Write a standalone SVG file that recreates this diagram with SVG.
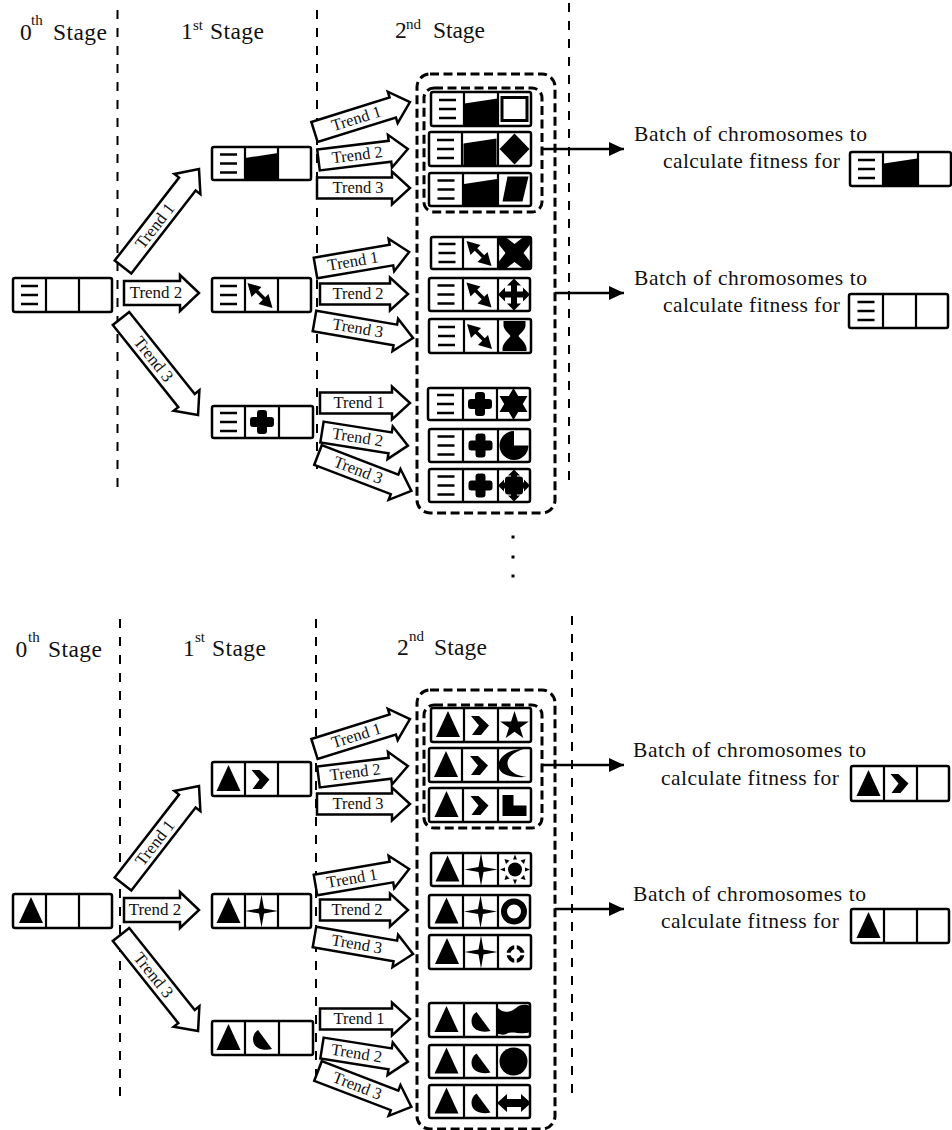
<svg xmlns="http://www.w3.org/2000/svg" width="952" height="1130" viewBox="0 0 952 1130">
<style>
text{font-family:"Liberation Serif","Times New Roman",serif;fill:#111}
.stage{font-size:23.5px}
.sup{font-size:15px}
.batch{font-size:21.5px}
.trend{font-size:16.5px;text-anchor:middle}
.big{font-size:17px;text-anchor:middle}
.div{fill:none;stroke:#000;stroke-width:2;stroke-dasharray:9 9}
.group{fill:none;stroke:#000;stroke-width:3;stroke-dasharray:9 4.5}
.box{fill:#fff;stroke:#000;stroke-width:2.5}
.cell{fill:none;stroke:#000;stroke-width:2.2}
.arrow{fill:#fff;stroke:#000;stroke-width:2.5;stroke-linejoin:miter}
.link{fill:none;stroke:#000;stroke-width:2.5}
</style>
<defs>
<marker id="head" markerUnits="userSpaceOnUse" markerWidth="15" markerHeight="14" refX="15" refY="7" orient="auto"><path d="M0 0L15 7L0 14Z" fill="#000"/></marker>
<g id="lines"><path d="M-8.500 -9H8.500M-8.500 0H8.500M-8.500 9H8.500" stroke="#000" stroke-width="2.500" fill="none"/></g>
<path id="wedge" d="M-16.500 -5.500L16.500 -10.500V16.500H-16.500Z"/>
<g id="dbl"><path d="M-8 -7L6 7" stroke="#000" stroke-width="3.500"/><path d="M-14 -12L0 -8L-10 2Z"/><path d="M11 13L7 -1L-3 9Z"/></g>
<path id="frame" fill-rule="evenodd" d="M-14 -13H14V13H-14ZM-11 -10V10H11V-10Z"/>
<path id="diamond" d="M0 -15.500L15 0L0 15.500L-15 0Z"/>
<path id="para" d="M-7 -13H14L8 12H-12Z"/>
<path id="xcross" d="M-16 -16H-9L0 -9L9 -16H16V-9L9 0L16 9V16H9L0 9L-9 16H-16V9L-9 0L-16 -9Z"/>
<path id="cross4" d="M0 -16L7 -9H3V-3H9V-7L16 0L9 7V3H3V9H7L0 16L-7 9H-3V3H-9V7L-16 0L-9 -7V-3H-3V-9H-7Z"/>
<path id="hourglass" d="M-11 -15H11V-10C10 -5 5 -2 4 0C5 2 11 6 12 12V15H-12V12C-11 6 -5 2 -4 0C-5 -2 -10 -5 -11 -10Z"/>
<path id="plus" d="M-5 -5V-9Q-5 -12 -2 -12H2Q5 -12 5 -9V-5H9Q12 -5 12 -2V2Q12 5 9 5H5V9Q5 12 2 12H-2Q-5 12 -5 9V5H-9Q-12 5 -12 2V-2Q-12 -5 -9 -5Z"/>
<path id="star6" d="M0 -16L4.700 -8H14L9.300 0L14 8H4.700L0 16L-4.700 8H-14L-9.300 0L-14 -8H-4.700Z"/>
<path id="pac" d="M0 0V-14.500A14.500 14.500 0 1 0 14.500 0Z"/>
<g id="burst"><path d="M0 -16L6 -10H3V-3H10V-6L16 0L10 6V3H3V10H6L0 16L-6 10H-3V3H-10V6L-16 0L-10 -6V-3H-3V-10H-6Z"/><rect x="-9" y="-9" width="18" height="18" rx="3"/></g>
<path id="tri" d="M0.500 -14L12.500 12H-11.500Z"/>
<path id="chev" d="M-10 -9H-2L8 0.500L0 10H-9L-2 0.500Z"/>
<path id="star5" d="M0 -15L3.400 -4.600H14.300L5.500 1.800L8.800 12.100L0 5.700L-8.800 12.100L-5.500 1.800L-14.300 -4.600H-3.400Z"/>
<path id="moon" d="M9 -16C-8 -16 -16 -6 -16 0C-16 8 -8 13 12 12C-2 10 -7 4 -7 -2C-7 -8 0 -13 9 -16Z"/>
<path id="ell" d="M-12 -10.500H-1V0H12V10.500H-12Z"/>
<g id="sun"><circle r="7"/><path d="M0 -15L2 -10H-2ZM0 15L2 10H-2ZM-15 0L-10 2V-2ZM15 0L10 2V-2ZM-10.500 -10.500L-9 -5.500L-5.500 -9ZM10.500 -10.500L9 -5.500L5.500 -9ZM-10.500 10.500L-9 5.500L-5.500 9ZM10.500 10.500L9 5.500L5.500 9Z"/></g>
<path id="star4" d="M0 -16.500L2.500 -2.500L16.500 0L2.500 2.500L0 16.500L-2.500 2.500L-16.500 0L-2.500 -2.500Z"/>
<circle id="ring" r="10" fill="none" stroke="#000" stroke-width="6"/>
<g id="target"><circle r="7" fill="none" stroke="#000" stroke-width="4"/><path d="M-10 0H10M0 -10V10" stroke="#fff" stroke-width="2.500"/></g>
<path id="half" d="M-4 -8L10 11C2 13 -9 11 -9 1C-9 -3 -7 -6 -4 -8Z"/>
<path id="blob" d="M-16 -12C-10 -6 -3 -8 2 -12C6 -16 12 -16 16 -14V12C10 15 -2 11 -6 13C-10 16 -14 14 -16 14Z"/>
<circle id="disc" r="14"/>
<path id="harrow" d="M-17 0L-7 -9V-4H7V-9L17 0L7 9V4H-7V9Z"/>
</defs>
<rect width="952" height="1130" fill="#fff"/>

<g id="headers">
<text class="stage" x="20" y="40">0</text><text class="sup" x="31" y="25">th</text><text class="stage" x="53" y="40" textLength="54">Stage</text>
<text class="stage" x="181" y="39">1</text><text class="sup" x="193" y="30">st</text><text class="stage" x="210" y="39" textLength="54">Stage</text>
<text class="stage" x="395" y="38">2</text><text class="sup" x="406" y="29">nd</text><text class="stage" x="433" y="38" textLength="52">Stage</text>
<text class="stage" x="15.500" y="657">0</text><text class="sup" x="28" y="642">th</text><text class="stage" x="48" y="657" textLength="54">Stage</text>
<text class="stage" x="183" y="656">1</text><text class="sup" x="195" y="642">st</text><text class="stage" x="212" y="656" textLength="54">Stage</text>
<text class="stage" x="397" y="655">2</text><text class="sup" x="409" y="641">nd</text><text class="stage" x="434" y="655" textLength="53">Stage</text>
</g>

<g id="dividers">
<path class="div" d="M117.500 10V487"/><path class="div" d="M317 10V478"/><path class="div" d="M569 3V483"/>
<path class="div" d="M120 619V1097"/><path class="div" d="M316 619V1087"/><path class="div" d="M572 616V1093"/>
</g>

<g id="ellipsis"><rect x="511.500" y="535.500" width="3" height="3"/><rect x="511.500" y="555.500" width="3" height="3"/><rect x="511.500" y="574.500" width="3" height="3"/></g>

<g id="connectors">
<g id="trends-upper-1">
<g transform="translate(123 267) rotate(-52.2)"><path class="arrow" d="M0 -10.500H105V-16.500L124 0L105 16.500V10.500H0Z"/><text class="big" x="52" y="5.500">Trend 1</text></g>
<g transform="translate(124 293)"><path class="arrow" d="M0 -12H56V-18L75 0L56 18V12H0Z"/><text class="big" x="32" y="5">Trend 2</text></g>
<g transform="translate(121 318.500) rotate(51.4)"><path class="arrow" d="M0 -10.500H105V-16.500L123.500 0L105 16.500V10.500H0Z"/><text class="big" x="52" y="5.500">Trend 3</text></g>
</g>
<g id="trends-upper-2">
<g transform="translate(314.500 132) rotate(-17.4)"><path class="arrow" d="M0 -10.500H82V-16.500L100 0L82 16.500V10.500H0Z"/><text class="trend" x="44" y="5">Trend 1</text></g>
<g transform="translate(318.500 160) rotate(-7)"><path class="arrow" d="M0 -10.500H72V-16.500L90 0L72 16.500V10.500H0Z"/><text class="trend" x="39" y="5">Trend 2</text></g>
<g transform="translate(317 188)"><path class="arrow" d="M0 -10.500H75V-16.500L93 0L75 16.500V10.500H0Z"/><text class="trend" x="41" y="5">Trend 3</text></g>
<g transform="translate(315.500 268) rotate(-9.7)"><path class="arrow" d="M0 -10.500H77V-16.500L95 0L77 16.500V10.500H0Z"/><text class="trend" x="38" y="5">Trend 1</text></g>
<g transform="translate(320 294)"><path class="arrow" d="M0 -10.500H70V-16.500L88 0L70 16.500V10.500H0Z"/><text class="trend" x="38" y="5">Trend 2</text></g>
<g transform="translate(314.500 321) rotate(9.8)"><path class="arrow" d="M0 -10.500H82V-16.500L100 0L82 16.500V10.500H0Z"/><text class="trend" x="44" y="5">Trend 3</text></g>
<g transform="translate(320 403)"><path class="arrow" d="M0 -10.500H72V-16.500L90 0L72 16.500V10.500H0Z"/><text class="trend" x="39" y="5">Trend 1</text></g>
<g transform="translate(322 432) rotate(9)"><path class="arrow" d="M0 -10.500H69V-16.500L87 0L69 16.500V10.500H0Z"/><text class="trend" x="36" y="5">Trend 2</text></g>
<g transform="translate(318 455) rotate(21)"><path class="arrow" d="M0 -10.500H82V-16.500L100 0L82 16.500V10.500H0Z"/><text class="trend" x="43" y="5">Trend 3</text></g>
</g>
<g id="trends-lower-1">
<g transform="translate(123 884) rotate(-52.2)"><path class="arrow" d="M0 -10.500H105V-16.500L124 0L105 16.500V10.500H0Z"/><text class="big" x="52" y="5.500">Trend 1</text></g>
<g transform="translate(124 910)"><path class="arrow" d="M0 -12H56V-18L75 0L56 18V12H0Z"/><text class="big" x="31" y="5">Trend 2</text></g>
<g transform="translate(121 934.500) rotate(51.4)"><path class="arrow" d="M0 -10.500H105V-16.500L123.500 0L105 16.500V10.500H0Z"/><text class="big" x="52" y="5.500">Trend 3</text></g>
</g>
<g id="trends-lower-2">
<g transform="translate(314.500 749) rotate(-17.4)"><path class="arrow" d="M0 -10.500H82V-16.500L100 0L82 16.500V10.500H0Z"/><text class="trend" x="44" y="5">Trend 1</text></g>
<g transform="translate(318.500 777) rotate(-7)"><path class="arrow" d="M0 -10.500H72V-16.500L90 0L72 16.500V10.500H0Z"/><text class="trend" x="37" y="5">Trend 2</text></g>
<g transform="translate(317 804)"><path class="arrow" d="M0 -10.500H75V-16.500L93 0L75 16.500V10.500H0Z"/><text class="trend" x="41" y="5">Trend 3</text></g>
<g transform="translate(315.500 885) rotate(-9.7)"><path class="arrow" d="M0 -10.500H77V-16.500L95 0L77 16.500V10.500H0Z"/><text class="trend" x="37" y="5">Trend 1</text></g>
<g transform="translate(320 910)"><path class="arrow" d="M0 -10.500H70V-16.500L88 0L70 16.500V10.500H0Z"/><text class="trend" x="37" y="5">Trend 2</text></g>
<g transform="translate(314.500 937) rotate(9.800)"><path class="arrow" d="M0 -10.500H82V-16.500L100 0L82 16.500V10.500H0Z"/><text class="trend" x="43" y="5">Trend 3</text></g>
<g transform="translate(320 1019)"><path class="arrow" d="M0 -10.500H72V-16.500L90 0L72 16.500V10.500H0Z"/><text class="trend" x="39" y="5">Trend 1</text></g>
<g transform="translate(322 1048) rotate(9)"><path class="arrow" d="M0 -10.500H69V-16.500L87 0L69 16.500V10.500H0Z"/><text class="trend" x="35" y="5">Trend 2</text></g>
<g transform="translate(318 1071) rotate(21)"><path class="arrow" d="M0 -10.500H82V-16.500L100 0L82 16.500V10.500H0Z"/><text class="trend" x="42" y="5">Trend 3</text></g>
</g>
<path class="link" marker-end="url(#head)" d="M541 149H624"/>
<path class="link" marker-end="url(#head)" d="M555 293H624"/>
<path class="link" marker-end="url(#head)" d="M541 765H624"/>
<path class="link" marker-end="url(#head)" d="M555 909H624"/>
</g>

<g id="batch-groups">
<rect class="group" x="417" y="74" width="138" height="439" rx="13"/>
<rect class="group" x="424" y="88" width="118" height="124" rx="10"/>
<rect class="group" x="417" y="690" width="138" height="439" rx="13"/>
<rect class="group" x="424" y="705" width="118" height="123" rx="10"/>
</g>

<g id="s0-a"><rect class="box" x="13" y="278" width="99" height="34" rx="2"/><path class="cell" d="M46 278V312M79 278V312"/><use href="#lines" x="29.500" y="295"/></g>
<g id="s1-a"><rect class="box" x="212" y="147" width="99" height="33" rx="2"/><use href="#wedge" x="261.500" y="163.500"/><path class="cell" d="M245 147V180M278 147V180"/><use href="#lines" x="228.500" y="163.500"/></g>
<g id="s1-b"><rect class="box" x="212" y="278" width="99" height="34" rx="2"/><path class="cell" d="M245 278V312M278 278V312"/><use href="#lines" x="228.500" y="295"/><use href="#dbl" x="261.500" y="295"/></g>
<g id="s1-c"><rect class="box" x="212" y="406" width="101" height="32" rx="2"/><path class="cell" d="M245 406V438M279 406V438"/><use href="#lines" x="228.500" y="422"/><use href="#plus" x="262" y="422"/></g>

<g id="r1"><rect class="box" x="431" y="92" width="100" height="34" rx="2"/><use href="#wedge" x="481" y="109"/><path class="cell" d="M464 92V126M498 92V126"/><use href="#lines" x="447.500" y="109"/><use href="#frame" x="514.500" y="109"/></g>
<g id="r2"><rect class="box" x="429" y="132" width="102" height="34" rx="2"/><use href="#wedge" x="480" y="149"/><path class="cell" d="M462 132V166M498 132V166"/><use href="#lines" x="445.500" y="149"/><use href="#diamond" x="514.500" y="149"/></g>
<g id="r3"><rect class="box" x="429" y="173" width="102" height="33" rx="2"/><use href="#wedge" x="480.500" y="189.500"/><path class="cell" d="M463 173V206M498 173V206"/><use href="#lines" x="446" y="189.500"/><use href="#para" x="514.500" y="189.500"/></g>
<g id="r4"><rect class="box" x="431" y="237" width="100" height="32" rx="2"/><path class="cell" d="M463 237V269M498 237V269"/><use href="#lines" x="447" y="253"/><use href="#dbl" x="480.500" y="253"/><use href="#xcross" x="514.500" y="253"/></g>
<g id="r5"><rect class="box" x="429" y="278" width="101" height="33" rx="2"/><path class="cell" d="M463 278V311M498 278V311"/><use href="#lines" x="446" y="294.500"/><use href="#dbl" x="480.500" y="294.500"/><use href="#cross4" x="514" y="294.500"/></g>
<g id="r6"><rect class="box" x="429" y="319" width="102" height="34" rx="2"/><path class="cell" d="M464 319V353M498 319V353"/><use href="#lines" x="446.500" y="336"/><use href="#dbl" x="481" y="336"/><use href="#hourglass" x="514.500" y="336"/></g>
<g id="r7"><rect class="box" x="428" y="388" width="102" height="32" rx="2"/><path class="cell" d="M463 388V420M497 388V420"/><use href="#lines" x="445.500" y="404"/><use href="#plus" x="480" y="404"/><use href="#star6" x="513.500" y="404"/></g>
<g id="r8"><rect class="box" x="429" y="429" width="101" height="33" rx="2"/><path class="cell" d="M463 429V462M498 429V462"/><use href="#lines" x="446" y="445.500"/><use href="#plus" x="480.500" y="445.500"/><use href="#pac" x="514" y="445.500"/></g>
<g id="r9"><rect class="box" x="429" y="469" width="101" height="33" rx="2"/><path class="cell" d="M463 469V502M498 469V502"/><use href="#lines" x="446" y="485.500"/><use href="#plus" x="480.500" y="485.500"/><use href="#burst" x="514" y="485.500"/></g>

<g id="batch-1"><text class="batch" x="634" y="141" textLength="233">Batch of chromosomes to</text><text class="batch" x="663" y="168" textLength="177">calculate fitness for</text>
<rect class="box" x="850" y="152" width="101" height="34" rx="2"/><use href="#wedge" x="900.500" y="169"/><path class="cell" d="M883 152V186M918 152V186"/><use href="#lines" x="866.500" y="169"/></g>
<g id="batch-2"><text class="batch" x="634" y="285" textLength="233">Batch of chromosomes to</text><text class="batch" x="663" y="312" textLength="177">calculate fitness for</text>
<rect class="box" x="849" y="294" width="99" height="34" rx="2"/><path class="cell" d="M883 294V328M916 294V328"/><use href="#lines" x="866" y="311"/></g>

<g id="s0-b"><rect class="box" x="13" y="894" width="99" height="34" rx="2"/><path class="cell" d="M46 894V928M79 894V928"/><use href="#tri" x="30.500" y="911"/></g>
<g id="s1-d"><rect class="box" x="212" y="762" width="99" height="34" rx="2"/><path class="cell" d="M245 762V796M278 762V796"/><use href="#tri" x="228" y="779"/><use href="#chev" x="261.500" y="779"/></g>
<g id="s1-e"><rect class="box" x="212" y="894" width="99" height="34" rx="2"/><path class="cell" d="M245 894V928M278 894V928"/><use href="#tri" x="228" y="911"/><use href="#star4" x="261.500" y="911"/></g>
<g id="s1-f"><rect class="box" x="212" y="1021" width="101" height="34" rx="2"/><path class="cell" d="M245 1021V1055M279 1021V1055"/><use href="#tri" x="228" y="1038"/><use href="#half" x="262" y="1038"/></g>

<g id="r10"><rect class="box" x="431" y="708" width="100" height="34" rx="2"/><path class="cell" d="M464 708V742M498 708V742"/><use href="#tri" x="447.500" y="725"/><use href="#chev" x="481" y="725"/><use href="#star5" x="514.500" y="726"/></g>
<g id="r11"><rect class="box" x="429" y="748" width="102" height="34" rx="2"/><path class="cell" d="M462 748V782M498 748V782"/><use href="#tri" x="445.500" y="765"/><use href="#chev" x="480" y="765"/><use href="#moon" x="514.500" y="765"/></g>
<g id="r12"><rect class="box" x="429" y="788" width="102" height="34" rx="2"/><path class="cell" d="M463 788V822M498 788V822"/><use href="#tri" x="446" y="805"/><use href="#chev" x="480.500" y="805"/><use href="#ell" x="514.500" y="805.500"/></g>
<g id="r13"><rect class="box" x="431" y="853" width="100" height="33" rx="2"/><path class="cell" d="M463 853V886M498 853V886"/><use href="#tri" x="447" y="869.500"/><use href="#star4" x="481" y="869.500"/><use href="#sun" x="515" y="869.500"/></g>
<g id="r14"><rect class="box" x="429" y="895" width="101" height="33" rx="2"/><path class="cell" d="M463 895V928M498 895V928"/><use href="#tri" x="446" y="911.500"/><use href="#star4" x="480.500" y="911.500"/><use href="#ring" x="514" y="911.500"/></g>
<g id="r15"><rect class="box" x="429" y="935" width="102" height="34" rx="2"/><path class="cell" d="M464 935V969M498 935V969"/><use href="#tri" x="446.500" y="952"/><use href="#star4" x="481" y="952"/><use href="#target" x="515.500" y="954"/></g>
<g id="r16"><rect class="box" x="429" y="1003" width="101" height="34" rx="2"/><path class="cell" d="M464 1003V1037M497 1003V1037"/><use href="#tri" x="446" y="1020"/><use href="#half" x="480.500" y="1020"/><use href="#blob" x="514" y="1020"/></g>
<g id="r17"><rect class="box" x="429" y="1045" width="101" height="33" rx="2"/><path class="cell" d="M464 1045V1078M497 1045V1078"/><use href="#tri" x="446" y="1061.500"/><use href="#half" x="480.500" y="1061.500"/><use href="#disc" x="513.500" y="1061.500"/></g>
<g id="r18"><rect class="box" x="429" y="1085" width="101" height="33" rx="2"/><path class="cell" d="M464 1085V1118M497 1085V1118"/><use href="#tri" x="446" y="1101.500"/><use href="#half" x="480.500" y="1101.500"/><use href="#harrow" x="514" y="1103"/></g>

<g id="batch-3"><text class="batch" x="633" y="757" textLength="233">Batch of chromosomes to</text><text class="batch" x="661" y="785" textLength="178">calculate fitness for</text>
<rect class="box" x="851" y="766" width="98" height="35" rx="2"/><path class="cell" d="M884 766V801M917 766V801"/><use href="#tri" x="868" y="784"/><use href="#chev" x="900.500" y="783"/></g>
<g id="batch-4"><text class="batch" x="633" y="901" textLength="233">Batch of chromosomes to</text><text class="batch" x="661" y="928" textLength="178">calculate fitness for</text>
<rect class="box" x="851" y="909" width="98" height="34" rx="2"/><path class="cell" d="M884 909V943M917 909V943"/><use href="#tri" x="868" y="926"/></g>
</svg>
